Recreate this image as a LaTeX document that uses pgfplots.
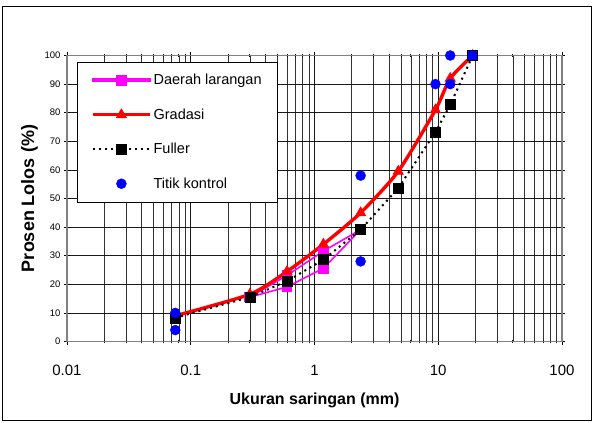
\documentclass[border=0pt]{standalone}
\usepackage{pgfplots}
\pgfplotsset{compat=1.18}
\usepackage{fontspec}
\setmainfont{Liberation Sans}
\definecolor{mag}{RGB}{255,0,255}
\definecolor{rd}{RGB}{255,0,0}
\definecolor{bl}{RGB}{0,0,255}
\pgfplotsset{
  mylegline/.style={legend image code/.code={\draw[mark repeat=2,mark phase=2,##1] plot coordinates {(0bp,0bp) (28.5bp,0bp) (57bp,0bp)};}},
  maglegend/.style={legend image code/.code={\fill[mag] (0bp,-1.1bp) rectangle (57bp,1.1bp); \fill[mag] (24bp,-4.5bp) rectangle (33bp,4.5bp);}},
  mylegmark/.style={legend image code/.code={\draw[##1] plot coordinates {(28.5bp,0bp)};}},
}
\pgfplotstableread{
x y
0.3 15.5
0.6 19.1
1.18 25.6
2.36 39.1
1.18 31.6
0.6 23.1
0.3 15.5
}\larangan
\pgfplotstableread{
x y
0.075 9
0.3 16.5
0.6 24.5
1.18 34
2.36 45
4.75 59.5
9.5 81
12.5 92
19 100
}\gradasi
\pgfplotstableread{
x y
0.075 8.3
0.3 15.5
0.6 21.1
1.18 28.6
2.36 39.1
4.75 53.6
9.5 73.2
12.5 82.8
19 100
}\fuller
\pgfplotstableread{
x y
0.075 10
0.075 4
2.36 58
2.36 28
9.5 90
12.5 90
12.5 100
}\kontrol
\begin{document}
\begin{tikzpicture}
\begin{axis}[
  at={(0,0)}, anchor=south west,
  scale only axis, width=495bp, height=286bp,
  xmode=log, log basis x=10,
  xmin=0.01, xmax=100, ymin=0, ymax=100,
  xtick={0.01,0.1,1,10,100},
  xticklabels={0.01,0.1,1,10,100},
  minor xtick={0.02,0.03,0.04,0.05,0.06,0.07,0.08,0.09,0.2,0.3,0.4,0.5,0.6,0.7,0.8,0.9,2,3,4,5,6,7,8,9,20,30,40,50,60,70,80,90},
  ytick={0,10,...,100},
  /pgf/number format/assume math mode=true,
  grid=both,
  major grid style={black!90, line width=0.6bp},
  minor grid style={black!80, line width=0.5bp},
  axis line style={black!50, line width=1.2bp},
  tick style={black, line width=0.6bp},
  tick align=center,
  major tick length=6bp, minor tick length=3bp,
  xticklabel style={font=\fontsize{15bp}{17bp}\selectfont, yshift=-17bp},
  yticklabel style={font=\fontsize{9.5bp}{11bp}\selectfont},
  xlabel={\textbf{Ukuran saringan (mm)}},
  ylabel={\textbf{Prosen Lolos (\%)}},
  xlabel style={font=\fontsize{16bp}{18bp}\selectfont, at={(axis description cs:0.5,-0.2045)}, anchor=center},
  ylabel style={font=\fontsize{18bp}{20bp}\selectfont, at={(axis description cs:-0.0758,0.5)}, anchor=center},
  legend style={at={(rel axis cs:0.0202,0.977)}, anchor=north west, draw=black, fill=white,
    font=\fontsize{14.5bp}{16bp}\selectfont, inner xsep=14bp, inner ysep=10bp, row sep=18.5bp},
  legend cell align=left,
  mylegline,
]
\addplot[mag, line width=1.6bp, mark=square*, mark size=4.5bp, mark options={solid, fill=mag}, maglegend] table {\larangan};
\addlegendentry{Daerah larangan}
\addplot[rd, line width=3.4bp, smooth, tension=0.4, mark=triangle*, mark size=6bp, mark options={solid, fill=rd, line width=0.5bp}] table {\gradasi};
\addlegendentry{Gradasi}
\addplot[black, line width=2bp, dash pattern=on 2bp off 4bp, mark=square*, mark size=5bp, mark options={solid, fill=black, line width=0.5bp}] table {\fuller};
\addlegendentry{Fuller}
\addplot[only marks, mark=*, mark size=5bp, color=bl, mark options={fill=bl, draw=bl}, mylegmark] table {\kontrol};
\addlegendentry{Titik kontrol}
\addplot[forget plot, only marks, mark=square*, mark size=5bp, mark options={fill=bl, draw=black, line width=0.5bp}] coordinates {(19,100)};
\end{axis}
\draw[black, line width=1bp] (-64bp,-78.5bp) rectangle (524bp,334.5bp);
\pgfresetboundingbox
\path (-67bp,-81.5bp) rectangle (527bp,341.5bp);
\end{tikzpicture}
\end{document}
